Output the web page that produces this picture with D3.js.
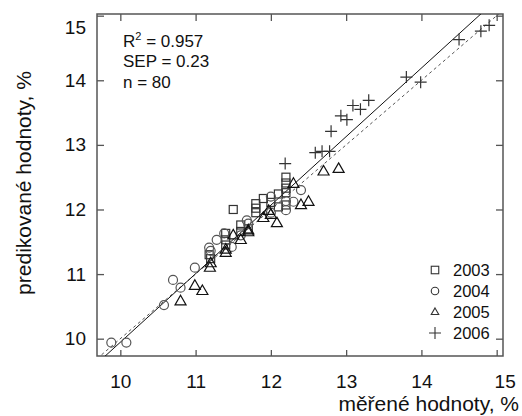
<!DOCTYPE html>
<html>
<head>
<meta charset="utf-8">
<script src="https://cdn.jsdelivr.net/npm/d3@7"></script>
<style>
  body { margin: 0; background: #fff; }
  text { font-family: "Liberation Sans", Arial, sans-serif; fill: #111; }
</style>
</head>
<body>
<div id="chart"></div>
<script>
"use strict";

// == DATA ==
var years = ["2003", "2004", "2005", "2006"];

var pts2003 = [
  [11.18, 11.30], [11.20, 11.24], [11.40, 11.63], [11.40, 11.53], [11.40, 11.45],
  [11.50, 12.00], [11.60, 11.76], [11.60, 11.66], [11.70, 11.70], [11.80, 12.09],
  [11.80, 12.02], [11.80, 11.95], [11.90, 12.17], [12.00, 12.11], [12.10, 12.24],
  [12.10, 12.04], [12.20, 12.50], [12.20, 12.41], [12.20, 12.33], [12.20, 12.07],
  [12.20, 12.26]
];
var pts2004 = [
  [9.88, 9.94], [10.08, 9.94], [10.58, 10.52], [10.70, 10.91], [10.80, 10.79],
  [10.99, 11.10], [11.18, 11.41], [11.28, 11.53], [11.38, 11.63], [11.48, 11.42],
  [11.68, 11.83], [11.70, 11.78], [12.00, 12.20], [12.00, 11.95], [12.20, 11.99],
  [12.20, 12.13], [12.30, 12.12], [12.40, 12.30], [11.20, 11.36], [11.60, 11.60]
];
var pts2005 = [
  [10.80, 10.58], [10.99, 10.82], [11.09, 10.74], [11.19, 11.10], [11.20, 11.17],
  [11.40, 11.33], [11.40, 11.38], [11.50, 11.60], [11.60, 11.53], [11.70, 11.65],
  [11.70, 11.68], [11.90, 11.87], [12.00, 11.92], [11.97, 11.98], [12.08, 11.79],
  [12.30, 12.40], [12.40, 12.07], [12.50, 12.12], [12.70, 12.59], [12.90, 12.63]
];
var pts2006 = [
  [12.19, 12.71], [12.59, 12.88], [12.68, 12.90], [12.78, 12.90], [12.80, 13.21],
  [12.93, 13.45], [13.01, 13.39], [13.09, 13.61], [13.19, 13.55], [13.30, 13.69],
  [13.80, 14.05], [13.99, 13.97], [14.50, 14.63], [14.79, 14.76], [14.90, 14.85]
];

var xTicks = [10, 11, 12, 13, 14, 15];
var yTicks = [10, 11, 12, 13, 14, 15];

var statLines = ["R", "2", " = 0.957", "SEP = 0.23", "n = 80"];

// regression line and the y = x line (slope, intercept)
var fitLine = [1.061, -0.665];
var idLine = [1, 0];

// == BOILERPLATE ==
var margin = { top: 14, right: 19, bottom: 60, left: 97 },
    width = 522 - margin.left - margin.right,
    height = 416 - margin.top - margin.bottom;

var svg = d3.select("#chart")
  .append("svg")
  .attr("width", 522)
  .attr("height", 416);

var g = svg.append("g")
  .attr("transform", "translate(" + margin.left + "," + margin.top + ")");

var x = d3.scaleLinear().domain([9.69, 15.084]).range([0, width]);
var y = d3.scaleLinear().domain([9.732, 15.026]).range([height, 0]);

var frameColor = "#555";

// axes, ticks pointing inward
var axB = g.append("g").attr("transform", "translate(0," + height + ")")
  .call(d3.axisBottom(x).tickValues(xTicks).tickSize(-6).tickPadding(19).tickFormat(d3.format("d")));
var axL = g.append("g")
  .call(d3.axisLeft(y).tickValues(yTicks).tickSize(-7).tickPadding(11).tickFormat(d3.format("d")));
g.append("g")
  .call(d3.axisTop(x).tickValues(xTicks).tickSize(-7).tickFormat(""));
g.append("g").attr("transform", "translate(" + width + ",0)")
  .call(d3.axisRight(y).tickValues(yTicks).tickSize(-7).tickFormat(""));

g.selectAll(".domain").remove();
g.selectAll(".tick line").attr("stroke", frameColor).attr("stroke-width", 1.3);
g.selectAll(".tick text").style("font-size", "19px").attr("fill", "#111");

// last labels sit a bit off their ticks in the original
axB.selectAll(".tick text").filter(function (d) { return d === 15; }).attr("dx", 8);
axL.selectAll(".tick text").filter(function (d) { return d === 15; }).attr("dy", "0.95em");

g.append("rect")
  .attr("width", width).attr("height", height)
  .attr("fill", "none").attr("stroke", frameColor).attr("stroke-width", 1.5);

// == LINES ==
g.append("clipPath").attr("id", "clip")
  .append("rect").attr("width", width).attr("height", height);

var x0 = x.domain()[0], x1 = x.domain()[1];
function lineEnds(p) {
  return [[x0, p[0] * x0 + p[1]], [x1, p[0] * x1 + p[1]]];
}
var lineGen = d3.line().x(function (d) { return x(d[0]); }).y(function (d) { return y(d[1]); });

g.append("path").attr("clip-path", "url(#clip)")
  .attr("d", lineGen(lineEnds(idLine)))
  .attr("fill", "none").attr("stroke", "#555").attr("stroke-width", 1)
  .attr("stroke-dasharray", "3,3");
g.append("path").attr("clip-path", "url(#clip)")
  .attr("d", lineGen(lineEnds(fitLine)))
  .attr("fill", "none").attr("stroke", "#111").attr("stroke-width", 1);

// == MARKERS ==
function drawMarker(sel, kind, s) {
  if (kind === "2003") {
    sel.append("rect").attr("x", -s / 2).attr("y", -s / 2).attr("width", s).attr("height", s);
  } else if (kind === "2004") {
    sel.append("circle").attr("r", s / 2);
  } else if (kind === "2005") {
    var h = s * 0.87;
    sel.append("path").attr("d", "M0," + (-h * 0.62) + "L" + (s / 2) + "," + (h * 0.38) + "L" + (-s / 2) + "," + (h * 0.38) + "Z");
  } else {
    sel.append("path").attr("d", "M" + (-s / 2) + ",0H" + (s / 2) + "M0," + (-s / 2) + "V" + (s / 2));
  }
}

var seriesList = [
  { year: "2003", pts: pts2003, color: "#333", size: 8 },
  { year: "2004", pts: pts2004, color: "#555", size: 9 },
  { year: "2005", pts: pts2005, color: "#111", size: 11 },
  { year: "2006", pts: pts2006, color: "#333", size: 12 }
];

seriesList.forEach(function (s) {
  g.selectAll(".m" + s.year)
    .data(s.pts)
    .enter()
    .append("g")
    .attr("transform", function (d) { return "translate(" + x(d[0]) + "," + y(d[1]) + ")"; })
    .each(function () { drawMarker(d3.select(this), s.year, s.size); })
    .selectAll("*")
    .attr("fill", "none").attr("stroke", s.color).attr("stroke-width", 1.2);
});

// == TEXT ==
var stat = g.append("g").attr("transform", "translate(26,0)").style("font-size", "17px");
var r2 = stat.append("text").attr("y", 33);
r2.append("tspan").text(statLines[0]);
r2.append("tspan").attr("dy", -7).style("font-size", "11px").text(statLines[1]);
r2.append("tspan").attr("dy", 7).text(statLines[2]);
stat.append("text").attr("y", 53).text(statLines[3]);
stat.append("text").attr("y", 74).text(statLines[4]);

// legend
var leg = g.append("g").attr("transform", "translate(338,256)");
years.forEach(function (yr, i) {
  var row = leg.append("g").attr("transform", "translate(0," + (i * 21) + ")");
  var m = row.append("g");
  drawMarker(m, yr, yr === "2006" ? 12 : 7.5);
  m.selectAll("*").attr("fill", "none").attr("stroke", "#333").attr("stroke-width", 1.1);
  row.append("text").attr("x", 18).attr("dy", "0.35em").style("font-size", "16.5px").text(yr);
});

// axis titles
svg.append("text")
  .attr("x", 519).attr("y", 411)
  .attr("text-anchor", "end")
  .style("font-size", "21px")
  .text("měřené hodnoty, %");

svg.append("text")
  .attr("transform", "translate(31,183) rotate(-90)")
  .attr("text-anchor", "middle")
  .style("font-size", "21px")
  .text("predikované hodnoty, %");
</script>
</body>
</html>
